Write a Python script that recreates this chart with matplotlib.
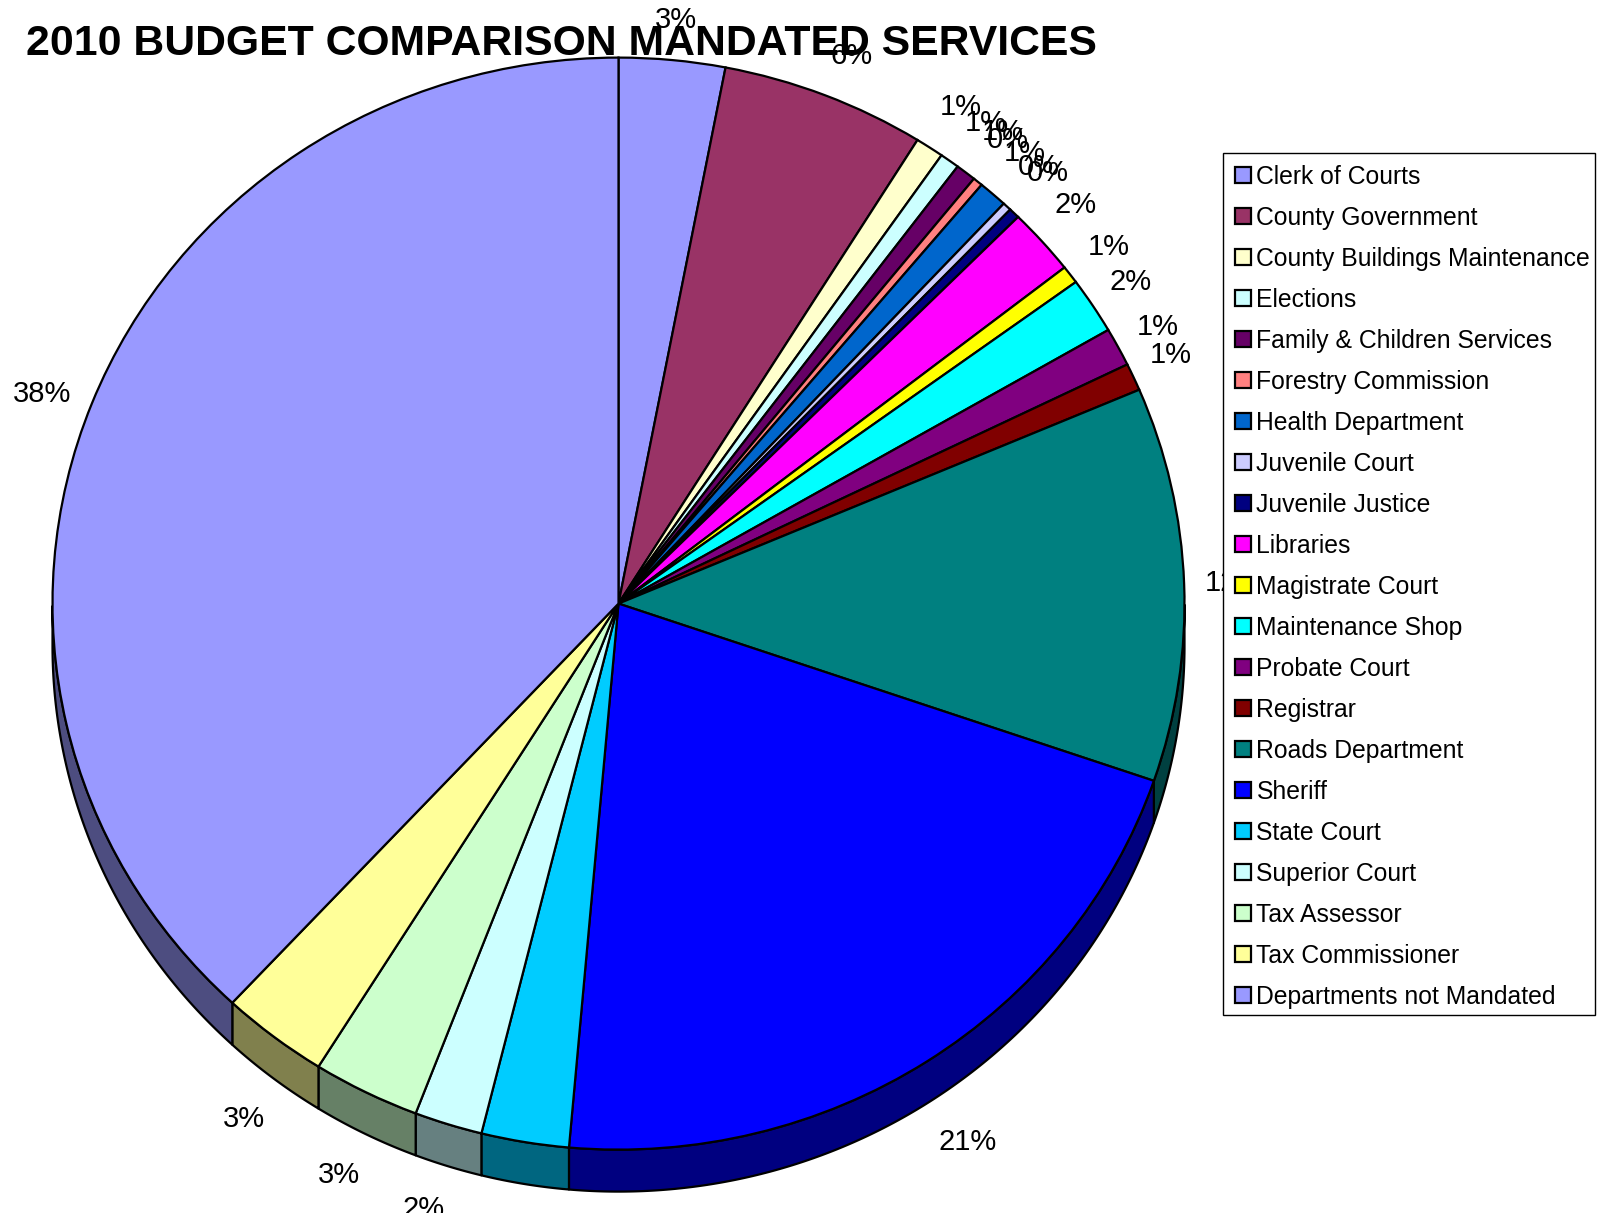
import numpy as np
import matplotlib
matplotlib.use("Agg")
import matplotlib.pyplot as plt
from matplotlib.colors import to_rgb
from matplotlib.patches import Rectangle

plt.rcParams['font.family'] = ['Liberation Sans', 'DejaVu Sans']

categories = ["Clerk of Courts", "County Government", "County Buildings Maintenance", "Elections",
              "Family & Children Services", "Forestry Commission", "Health Department", "Juvenile Court",
              "Juvenile Justice", "Libraries", "Magistrate Court", "Maintenance Shop", "Probate Court",
              "Registrar", "Roads Department", "Sheriff", "State Court", "Superior Court", "Tax Assessor",
              "Tax Commissioner", "Departments not Mandated"]
values = [3.03, 5.83, 0.81, 0.56, 0.58, 0.28, 0.83, 0.25, 0.31, 1.97, 0.53, 1.67, 1.14, 0.81,
          11.67, 21.14, 2.50, 1.94, 3.06, 3.06, 38.06]
colors = ["#9999FF", "#993366", "#FFFFCC", "#CCFFFF", "#660066", "#FF8080", "#0066CC", "#CCCCFF",
          "#000080", "#FF00FF", "#FFFF00", "#00FFFF", "#800080", "#800000", "#008080", "#0000FF",
          "#00CCFF", "#CCFFFF", "#CCFFCC", "#FFFF99", "#9999FF"]
title = "2010 BUDGET COMPARISON MANDATED SERVICES"
label_texts = ["3%", "6%", "1%", "1%", "1%", "0%", "1%", "0%", "0%", "2%", "1%", "2%", "1%", "1%",
               "12%", "21%", "2%", "3%", "3%", "38%"]
# label centres, in pixels of the 1604x1213 canvas
label_px = [(676, 20), (852, 56), (961, 107), (986, 123), (1003, 132), (1008, 140), (1025, 153),
            (1039, 167), (1048, 173), (1076, 205), (1109, 247), (1131, 282), (1158, 327), (1171, 355),
            (1234, 583), (968, 1142), (424, 1209), (339, 1175), (244, 1119), (42, 394)]

W, H = 1604, 1213
CX, CY, RX, RY, DEPTH = 618.5, 603.6, 566.0, 546.0, 42.0

fig = plt.figure(figsize=(W / 100, H / 100), dpi=100, facecolor="white")
ax = fig.add_axes([0, 0, 1, 1])
wedges, _ = ax.pie(values, colors=colors, startangle=90, counterclock=False, radius=1,
                   wedgeprops=dict(edgecolor="black", linewidth=1.6, zorder=2))
ax.set_aspect("auto")
ax.set_xlim(-CX / RX, (W - CX) / RX)
ax.set_ylim(-(H - CY) / RY, CY / RY)
ax.axis("off")

d = DEPTH / RY
for w, c in zip(wedges, colors):
    th = np.radians(np.linspace(w.theta1, w.theta2, 300))
    th = th[np.sin(th) <= 0]
    if len(th) < 2:
        continue
    x, y = np.cos(th), np.sin(th)
    dark = tuple(v * 0.5 for v in to_rgb(c))
    ax.fill(np.r_[x, x[::-1]], np.r_[y, y[::-1] - d], facecolor=dark, edgecolor="black",
            linewidth=1.6, zorder=1, joinstyle="round")

for t, (px, py) in zip(label_texts, label_px):
    ax.text(px / W, 1 - py / H, t, transform=fig.transFigure, ha="center", va="center",
            fontsize=21, color="black", zorder=3)

fig.text(26 / W, 1 - 44 / H, title, ha="left", va="center", fontsize=30.8, fontweight="bold", color="black")

ax.add_patch(Rectangle((1223 / W, 1 - 1015 / H), 372 / W, 862 / H, transform=fig.transFigure,
                       facecolor="white", edgecolor="black", linewidth=1.0, zorder=4, clip_on=False))
leg = ax.legend(wedges, categories, loc="upper left", bbox_to_anchor=(1223 / W, 1 - 153 / H),
                bbox_transform=fig.transFigure, borderaxespad=0, frameon=False, fontsize=17.85,
                handlelength=0.62, handleheight=0.62, handletextpad=0.24, labelspacing=0.685,
                borderpad=0.49)
leg.set_zorder(5)

fig.savefig("out.png", dpi=100)
